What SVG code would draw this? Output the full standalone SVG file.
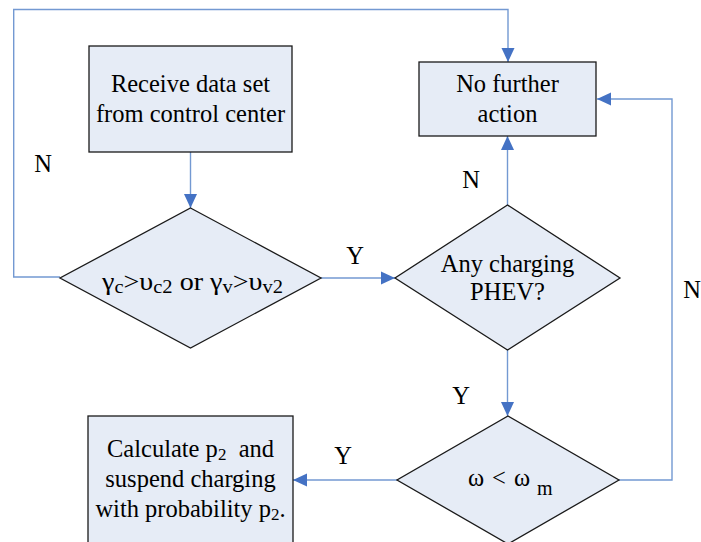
<svg xmlns="http://www.w3.org/2000/svg" width="701" height="542" viewBox="0 0 701 542">
<defs>
<marker id="arr" markerUnits="userSpaceOnUse" markerWidth="14" markerHeight="14" refX="14" refY="7" orient="auto">
<path d="M0,0.5 L14,7 L0,13.5 z" fill="#4472C4"/>
</marker>
<style>
.node{fill:#E6ECF6;stroke:#1a1a1a;stroke-width:1.3}
.conn{fill:none;stroke:#7399D2;stroke-width:1.4}
text{font-size:24.5px;fill:#000}
.c{text-anchor:middle}
.sub{font-size:17px}
</style>
</defs>
<rect width="701" height="542" fill="#fff"/>
<g id="connectors">
<path class="conn" d="M190.5,152 V208" marker-end="url(#arr)"/>
<path class="conn" d="M60,277 H13.7 V9.5 H508 V62" marker-end="url(#arr)"/>
<path class="conn" d="M321,278 H395" marker-end="url(#arr)"/>
<path class="conn" d="M507.5,205 V136" marker-end="url(#arr)"/>
<path class="conn" d="M507.5,350 V416" marker-end="url(#arr)"/>
<path class="conn" d="M619,480 H672 V99 H597" marker-end="url(#arr)"/>
<path class="conn" d="M397,480 H293" marker-end="url(#arr)"/>
</g>
<g font-family="'Liberation Serif', serif">
<g id="labels">
<text x="43" y="172" class="c">N</text>
<text x="355" y="264" class="c">Y</text>
<text x="471" y="188" class="c">N</text>
<text x="461" y="404" class="c">Y</text>
<text x="692" y="298" class="c">N</text>
<text x="343" y="464" class="c">Y</text>
</g>
<g id="receive">
<rect class="node" x="89" y="46" width="203" height="106"/>
<text x="190.5" y="92" class="c">Receive data set</text>
<text x="190.5" y="122" class="c">from control center</text>
</g>
<g id="nofurther">
<rect class="node" x="419" y="62" width="177" height="74"/>
<text x="507.5" y="92" class="c">No further</text>
<text x="507.5" y="122" class="c">action</text>
</g>
<g id="cond1">
<polygon class="node" points="190.5,208 321,278 190.5,348 60,278"/>
<text x="102" y="290" textLength="181" lengthAdjust="spacingAndGlyphs" style="font-size:26px">γ<tspan style="font-size:19px" dy="3">c</tspan><tspan dy="-3">&gt;υ</tspan><tspan style="font-size:19px" dy="3">c2</tspan><tspan dy="-3"> or γ</tspan><tspan style="font-size:19px" dy="3">v</tspan><tspan dy="-3">&gt;υ</tspan><tspan style="font-size:19px" dy="3">v2</tspan></text>
</g>
<g id="cond2">
<polygon class="node" points="507.5,205 620,278 507.5,350 395,278"/>
<text x="507.5" y="272" class="c">Any charging</text>
<text x="507.5" y="300" class="c">PHEV?</text>
</g>
<g id="cond3">
<polygon class="node" points="508,416 619,480 508,544 397,480"/>
<text x="468" y="486">ω<tspan x="492">&lt;</tspan><tspan x="514">ω</tspan><tspan x="537" dy="9" style="font-size:20px">m</tspan></text>
</g>
<g id="calc">
<rect class="node" x="88" y="416" width="205" height="140"/>
<text x="190.5" y="457" class="c">Calculate p<tspan class="sub" dy="3">2</tspan><tspan dy="-3" xml:space="preserve">  and</tspan></text>
<text x="190.5" y="487" class="c">suspend charging</text>
<text x="190.5" y="517" class="c">with probability p<tspan class="sub" dy="3">2</tspan><tspan dy="-3">.</tspan></text>
</g>
</g>
</svg>
